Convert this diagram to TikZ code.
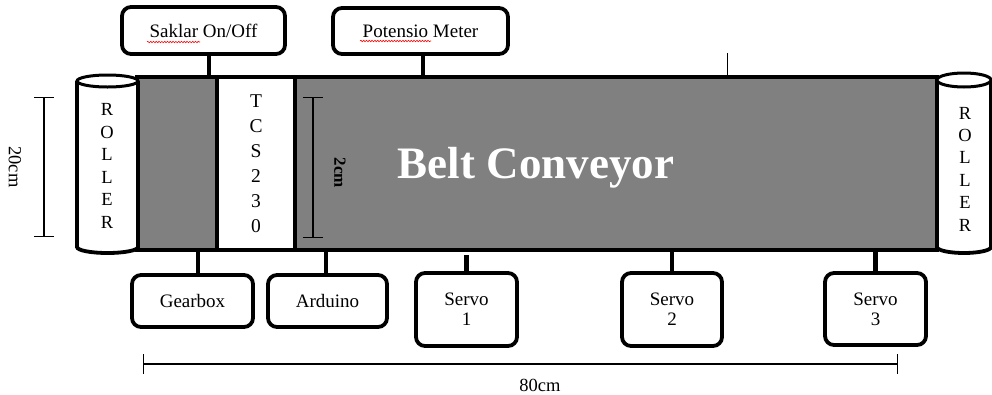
\documentclass[tikz,border=0pt]{standalone}
\usepackage{fontspec}
\setmainfont{Liberation Serif}
\usetikzlibrary{positioning,arrows.meta,decorations.pathmorphing}

\tikzset{
  part/.style={draw, line width=3.8pt, rounded corners=9pt, fill=white,
    font=\fontsize{19}{20}\selectfont, align=center, inner sep=0pt},
  link/.style={line width=4.5pt},
  wall/.style={draw, line width=3.8pt},
  dimline/.style={line width=1.4pt, {Bar[width=20pt]}-{Bar[width=20pt]}},
  dimtext/.style={font=\fontsize{18.5}{20}\selectfont},
  spell/.style={red, line width=0.6pt, decorate,
    decoration={snake, amplitude=0.7pt, segment length=2.8pt}}
}

\begin{document}
\begin{tikzpicture}[x=1pt,y=-1pt]
  \useasboundingbox (0,0) rectangle (992,394);

  % belt and sensor section
  \node[wall, fill=gray, minimum width=800pt, minimum height=173pt, inner sep=0pt] (belt) at (537,163.5) {};
  \node[wall, fill=white, minimum width=78pt, minimum height=173pt, inner sep=0pt,
    align=center, font=\fontsize{19.5}{25}\selectfont] (tcs) at (256,163.5) {T\\C\\S\\2\\3\\0};
  \node[white, font=\bfseries\fontsize{45}{45}\selectfont] (title) at (536,168) {Belt Conveyor};

  % rollers
  \draw[wall, fill=white] (77,81) -- (77,247)
    arc[start angle=180, end angle=360, x radius=30.5pt, y radius=6pt] -- (138,81);
  \draw[wall, line width=3pt, fill=white] (107.5,81) ellipse[x radius=30.5pt, y radius=6pt];
  \node[align=center, font=\fontsize{18.5}{22.6}\selectfont] (rollerL) at (107,166) {R\\O\\L\\L\\E\\R};
  \draw[wall, fill=white] (937,80) -- (937,247)
    arc[start angle=180, end angle=360, x radius=27pt, y radius=6pt] -- (991,80);
  \draw[wall, line width=3pt, fill=white] (964,80) ellipse[x radius=27pt, y radius=7pt];
  \node[align=center, font=\fontsize{18.5}{22.4}\selectfont] (rollerR) at (965,169) {R\\O\\L\\L\\E\\R};

  % components above
  \node[part, minimum width=163pt, minimum height=47pt] (saklar) at (203.5,30.5) {Saklar On/Off};
  \node[part, minimum width=175pt, minimum height=46pt] (poti) at (420.5,31) {Potensio Meter};
  \draw[link] ([xshift=5.5pt]saklar.south) -- ([xshift=5.5pt]saklar.south |- belt.north);
  \draw[link] ([xshift=2.5pt]poti.south) -- ([xshift=2.5pt]poti.south |- belt.north);
  \coordinate (mark) at (727,53);
  \draw[line width=1pt] (mark) -- (mark |- belt.north);
  \draw[spell] (147,42) -- (200,42);
  \draw[spell] (360,41) -- (431,41);

  % components below
  \node[part, minimum width=121pt, minimum height=52pt] (gearbox) at (192.5,301) {Gearbox};
  \node[part, minimum width=119pt, minimum height=52pt] (arduino) at (327.5,301) {Arduino};
  \node[part, minimum width=101pt, minimum height=73pt] (servoA) at (466.5,309.5) {Servo\\1};
  \node[part, minimum width=100pt, minimum height=73pt] (servoB) at (672,309.5) {Servo\\2};
  \node[part, minimum width=101pt, minimum height=72pt] (servoC) at (875.5,309) {Servo\\3};
  \draw[link] ([xshift=5.5pt]gearbox.north) -- ([xshift=5.5pt]gearbox.north |- belt.south);
  \draw[link] ([xshift=-1.5pt]arduino.north) -- ([xshift=-1.5pt]arduino.north |- belt.south);
  \draw[link] (servoA.north) -- ++(0,-16);
  \draw[link] (servoB.north) -- (servoB.north |- belt.south);
  \draw[link] (servoC.north) -- (servoC.north |- belt.south);

  % dimensions
  \coordinate (hA) at (44,97);
  \coordinate (hB) at (44,237);
  \draw[dimline] (hA) -- (hB);
  \node[dimtext, rotate=-90] (hlabel) at (15,167) {20cm};
  \coordinate (sA) at (313,97);
  \coordinate (sB) at (313,238);
  \draw[dimline] (sA) -- (sB);
  \node[dimtext, font=\bfseries\fontsize{17}{20}\selectfont, rotate=-90] (slabel) at (340,173) {2cm};
  \coordinate (wA) at (143,364);
  \coordinate (wB) at (898,364);
  \draw[dimline] (wA) -- (wB);
  \node[dimtext, inner sep=0pt, anchor=base] (wlabel) at (540,391) {80cm};
\end{tikzpicture}
\end{document}
